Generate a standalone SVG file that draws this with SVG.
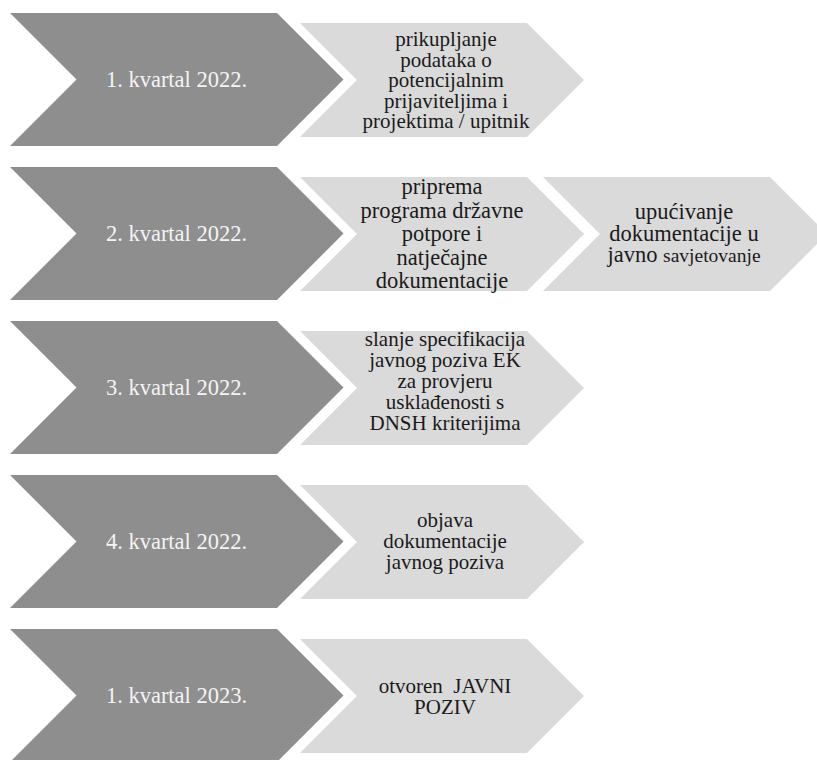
<svg xmlns="http://www.w3.org/2000/svg" xmlns:xlink="http://www.w3.org/1999/xlink" width="817" height="760" viewBox="0 0 817 760">
<defs>
<style>
.dark{fill:#8e8e8e}
.light{fill:#dadada}
text{font-family:'Liberation Serif','DejaVu Serif',serif;text-anchor:middle}
.dt{fill:#f4f4f4;font-size:22.5px}
.lt{fill:#1a1a1a;font-size:21px}
.lt2{fill:#1a1a1a;font-size:22.5px}
</style>
<path id="chevDark" d="M10,0 H277 L343.5,66.5 L277,133 H10 L76.5,66.5 Z"/>
<path id="chevLight" d="M300,0 H527 L584,57 L527,114 H300 L357,57 Z"/>
</defs>
<rect width="817" height="760" fill="#ffffff"/>

<g id="q1-2022">
<use xlink:href="#chevDark" class="dark" transform="translate(0,13)"/>
<text class="dt" font-family="Liberation Serif, serif" x="176.5" y="87">1. kvartal 2022.</text>
</g>
<g id="q1-2022-task">
<use xlink:href="#chevLight" class="light" transform="translate(0,23)"/>
<text class="lt" font-family="Liberation Serif, serif" x="446"><tspan x="446" y="46">prikupljanje</tspan><tspan x="446" y="66.5">podataka o</tspan><tspan x="446" y="87">potencijalnim</tspan><tspan x="446" y="107.5">prijaviteljima i</tspan><tspan x="446" y="128">projektima / upitnik</tspan></text>
</g>

<g id="q2-2022">
<use xlink:href="#chevDark" class="dark" transform="translate(0,167)"/>
<text class="dt" font-family="Liberation Serif, serif" x="176.5" y="241">2. kvartal 2022.</text>
</g>
<g id="q2-2022-task1">
<use xlink:href="#chevLight" class="light" transform="translate(0,177)"/>
<text class="lt2" font-family="Liberation Serif, serif" x="442"><tspan x="442" y="194">priprema</tspan><tspan x="442" y="217.5">programa državne</tspan><tspan x="442" y="241">potpore i</tspan><tspan x="442" y="264.5">natječajne</tspan><tspan x="442" y="288">dokumentacije</tspan></text>
</g>
<g id="q2-2022-task2">
<use xlink:href="#chevLight" class="light" transform="translate(243,177)"/>
<text class="lt2" font-family="Liberation Serif, serif" x="684"><tspan x="684" y="219">upućivanje</tspan><tspan x="684" y="240.5">dokumentacije u</tspan><tspan x="684" y="262">javno <tspan font-size="19.5px">savjetovanje</tspan></tspan></text>
</g>

<g id="q3-2022">
<use xlink:href="#chevDark" class="dark" transform="translate(0,321)"/>
<text class="dt" font-family="Liberation Serif, serif" x="176.5" y="395">3. kvartal 2022.</text>
</g>
<g id="q3-2022-task">
<use xlink:href="#chevLight" class="light" transform="translate(0,331)"/>
<text class="lt" font-family="Liberation Serif, serif" x="445"><tspan x="445" y="346">slanje specifikacija</tspan><tspan x="445" y="367">javnog poziva EK</tspan><tspan x="445" y="388">za provjeru</tspan><tspan x="445" y="409">usklađenosti s</tspan><tspan x="445" y="430">DNSH kriterijima</tspan></text>
</g>

<g id="q4-2022">
<use xlink:href="#chevDark" class="dark" transform="translate(0,475)"/>
<text class="dt" font-family="Liberation Serif, serif" x="176.5" y="549">4. kvartal 2022.</text>
</g>
<g id="q4-2022-task">
<use xlink:href="#chevLight" class="light" transform="translate(0,485)"/>
<text class="lt" font-family="Liberation Serif, serif" x="445"><tspan x="445" y="527">objava</tspan><tspan x="445" y="548">dokumentacije</tspan><tspan x="445" y="569">javnog poziva</tspan></text>
</g>

<g id="q1-2023">
<use xlink:href="#chevDark" class="dark" transform="translate(0,629)"/>
<text class="dt" font-family="Liberation Serif, serif" x="176.5" y="703">1. kvartal 2023.</text>
</g>
<g id="q1-2023-task">
<use xlink:href="#chevLight" class="light" transform="translate(0,639)"/>
<text class="lt" font-family="Liberation Serif, serif" x="445" xml:space="preserve"><tspan x="445" y="693">otvoren  JAVNI</tspan><tspan x="445" y="714">POZIV</tspan></text>
</g>
</svg>
